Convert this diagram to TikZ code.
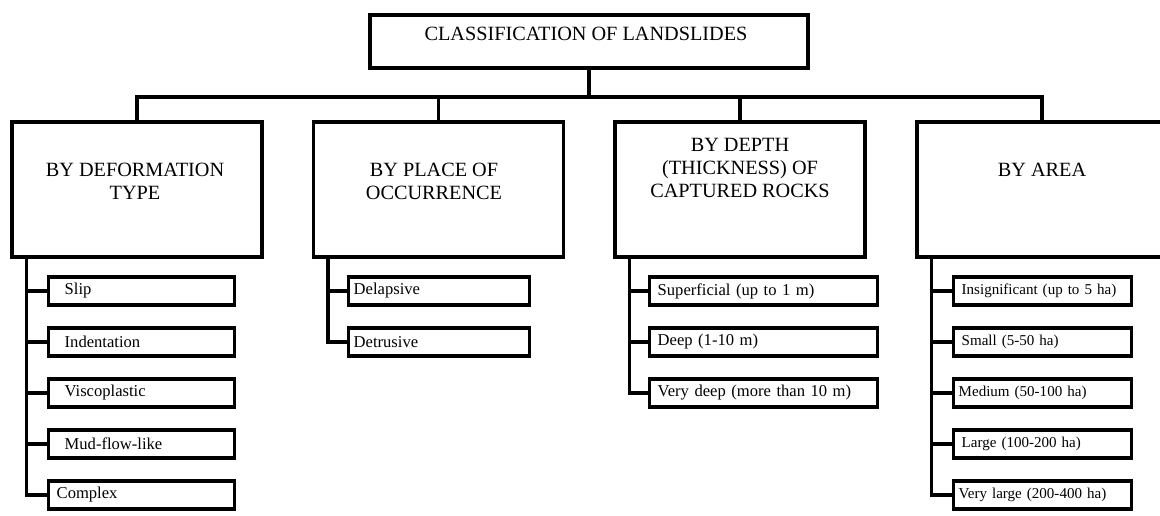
\documentclass[tikz,border=0pt]{standalone}
\usepackage{fontspec}
\setmainfont{Liberation Serif}
\usepackage{tikz}
\usetikzlibrary{positioning,calc}
\tikzset{
  headbox/.style={draw=black, line width=2.4pt, inner sep=0pt},
  headlab/.style={font=\fontsize{14.4}{16.3}\selectfont, align=center, inner sep=0pt},
  itembox/.style={draw=black, line width=2.4pt, anchor=west, minimum height=7mm,
                  inner ysep=0pt, align=left, font=\fontsize{11.8}{14}\selectfont},
  smallitem/.style={itembox, font=\fontsize{10.7}{13}\selectfont},
  link/.style={draw=black, line width=2.4pt},
}

\begin{document}
\begin{tikzpicture}[x=0.25mm,y=-0.25mm]
\useasboundingbox (0,0) rectangle (1160,516);
\node[headbox, minimum width=109.5mm, minimum height=13.25mm] (root) at (589,41.5) {};
\node[headlab] (rootlab) at (586,34) {CLASSIFICATION OF LANDSLIDES};
\node[headbox, minimum width=62.5mm, minimum height=33.75mm] (c1) at (137,189.5) {};
\node[headbox, minimum width=62.5mm, minimum height=33.75mm] (c2) at (438.5,189.5) {};
\node[headbox, minimum width=62.5mm, minimum height=33.75mm] (c3) at (740,189.5) {};
\node[headbox, minimum width=62.5mm, minimum height=33.75mm] (c4) at (1042,189.5) {};
\node[headlab] (c1lab) at (135,181) {BY DEFORMATION\\TYPE};
\node[headlab] (c2lab) at (434,181) {BY PLACE OF\\OCCURRENCE};
\node[headlab] (c3lab) at (740,168) {BY DEPTH\\(THICKNESS) OF\\CAPTURED ROCKS};
\node[headlab] (c4lab) at (1042,170) {BY AREA};
\coordinate (bar) at (589,97);
\foreach \c in {c1,c2,c3,c4}{%
  \draw[link] (root.south) -- (bar) -| (\c.north);
}
\node[itembox, inner xsep=4mm, text width=38.5mm] (a1) at (47,291) {Slip};
\node[itembox, inner xsep=4mm, text width=38.5mm] (a2) at (47,342) {Indentation};
\node[itembox, inner xsep=4mm, text width=38.5mm] (a3) at (47,393) {Viscoplastic};
\node[itembox, inner xsep=4mm, text width=38.5mm] (a4) at (47,444) {Mud-flow-like};
\node[itembox, inner xsep=2mm, text width=42.5mm] (a5) at (47,495) {Complex};
\node[itembox, inner xsep=1.25mm, text width=42.75mm] (b1) at (347,291) {Delapsive};
\node[itembox, inner xsep=1.25mm, text width=42.75mm] (b2) at (347,342) {Detrusive};
\node[itembox, inner xsep=2mm, text width=53mm] (d1) at (648,291) {Superficial (up to 1 m)};
\node[itembox, inner xsep=2mm, text width=53mm] (d2) at (648,342) {Deep (1-10 m)};
\node[itembox, inner xsep=2mm, text width=53mm] (d3) at (648,393) {Very deep (more than 10 m)};
\node[smallitem, inner xsep=2mm, text width=40.5mm] (e1) at (952,291) {Insignificant (up to 5 ha)};
\node[smallitem, inner xsep=2mm, text width=40.5mm] (e2) at (952,342) {Small (5-50 ha)};
\node[smallitem, inner xsep=1.25mm, text width=42mm] (e3) at (952,393) {Medium (50-100 ha)};
\node[smallitem, inner xsep=2mm, text width=40.5mm] (e4) at (952,444) {Large (100-200 ha)};
\node[smallitem, inner xsep=1.25mm, text width=42mm] (e5) at (952,495) {Very large (200-400 ha)};
\foreach \s in {a1,a2,a3,a4,a5}{%
  \draw[link] ([xshift=4mm]c1.south west) |- (\s.west);
}
\foreach \s in {b1,b2}{%
  \draw[link] ([xshift=4mm]c2.south west) |- (\s.west);
}
\foreach \s in {d1,d2,d3}{%
  \draw[link] ([xshift=4mm]c3.south west) |- (\s.west);
}
\foreach \s in {e1,e2,e3,e4,e5}{%
  \draw[link] ([xshift=4mm]c4.south west) |- (\s.west);
}
\end{tikzpicture}
\end{document}
